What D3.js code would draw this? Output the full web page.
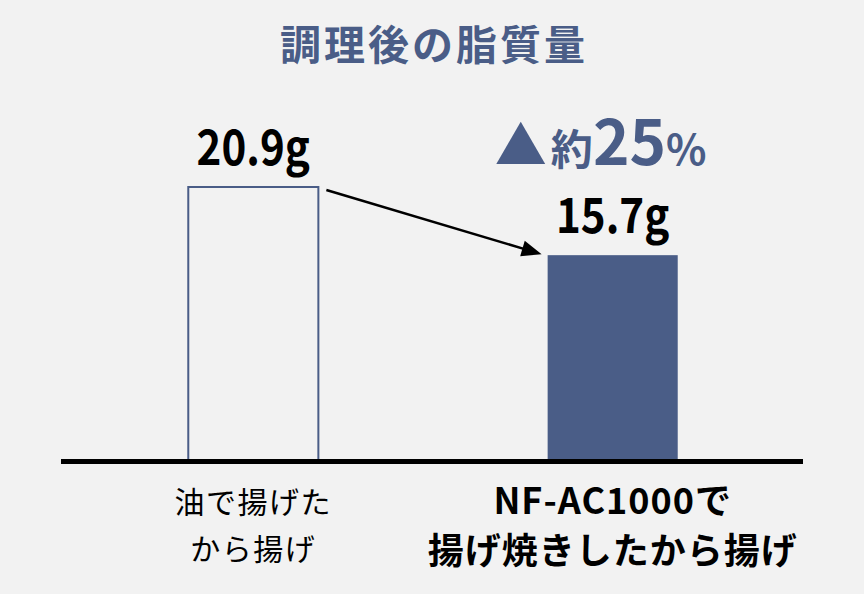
<!DOCTYPE html>
<html><head><meta charset="utf-8">
<script src="https://cdn.jsdelivr.net/npm/d3@7"></script>
<style>
html,body{margin:0;padding:0;background:#f2f2f2;}
svg{display:block;}
text{font-family:"Noto Sans CJK JP","Noto Sans",sans-serif;}
</style></head>
<body>
<script>
const title = "調理後の脂質量";
const categories = ["油で揚げたから揚げ", "NF-AC1000で揚げ焼きしたから揚げ"];
const categoryLines = [["油で揚げた", "から揚げ"], ["NF-AC1000で", "揚げ焼きしたから揚げ"]];
const values = [20.9, 15.7];
const valueLabels = ["20.9g", "15.7g"];
const reductionLabel = ["▲", "約", "25", "%"];

const W = 864, H = 594;
const blue = "#4a5d87";
const svg = d3.select("body").append("svg").attr("width", W).attr("height", H);
svg.append("rect").attr("width", W).attr("height", H).attr("fill", "#f2f2f2");

const x = d3.scaleBand().domain(categories).range([74, 792]).paddingInner(0.638).paddingOuter(0.318);
const y = d3.scaleLinear().domain([0, 20.9]).range([461, 187]);

// title
svg.append("text").attr("x", 434).attr("y", 60).attr("text-anchor", "middle")
  .attr("font-size", 41).attr("font-weight", 700).attr("letter-spacing", 3)
  .attr("fill", blue).text(title);

// bars
svg.selectAll("rect.bar").data(values).join("rect").attr("class", "bar")
  .attr("x", (d, i) => x(categories[i]))
  .attr("y", d => y(d))
  .attr("width", x.bandwidth())
  .attr("height", d => y(0) - y(d))
  .attr("fill", (d, i) => i === 0 ? "none" : blue)
  .attr("stroke", (d, i) => i === 0 ? blue : "none")
  .attr("stroke-width", 2);

// baseline
svg.append("line").attr("x1", 61).attr("x2", 803).attr("y1", y(0) + 0.5).attr("y2", y(0) + 0.5)
  .attr("stroke", "#000").attr("stroke-width", 5);

// value labels (condensed)
svg.selectAll("g.val").data(values).join("g").attr("class", "val")
  .attr("transform", (d, i) => `translate(${x(categories[i]) + x.bandwidth() / 2},${y(d) - 22}) scale(0.86,1)`)
  .append("text")
  .attr("text-anchor", "middle").attr("font-size", 49).attr("font-weight", 700)
  .attr("fill", "#000").text((d, i) => valueLabels[i]);

// reduction label
const rl = svg.append("text").attr("x", x(categories[1]) + x.bandwidth() / 2 - 12).attr("y", 165)
  .attr("text-anchor", "middle").attr("fill", blue).attr("font-weight", 700);
const sizes = [52, 42, 62, 42];
reductionLabel.forEach((t, i) => {
  rl.append("tspan").attr("font-size", sizes[i]).attr("dx", i === 1 ? 4 : 0).text(t);
});

// arrow
const ax1 = x(categories[0]) + x.bandwidth() + 8, ay1 = y(values[0]) + 3;
const ax2 = x(categories[1]) - 6, ay2 = y(values[1]) - 1;
const ang = Math.atan2(ay2 - ay1, ax2 - ax1);
const hl = 20, hw = 8;
svg.append("line").attr("x1", ax1).attr("y1", ay1)
  .attr("x2", ax2 - Math.cos(ang) * hl * 0.8).attr("y2", ay2 - Math.sin(ang) * hl * 0.8)
  .attr("stroke", "#000").attr("stroke-width", 2.5);
const bx = ax2 - Math.cos(ang) * hl, by = ay2 - Math.sin(ang) * hl;
svg.append("path").attr("d",
  `M${ax2},${ay2} L${bx - Math.sin(ang) * hw},${by + Math.cos(ang) * hw} L${bx + Math.sin(ang) * hw},${by - Math.cos(ang) * hw} Z`)
  .attr("fill", "#000");

// category labels
const lineY = [[513, 560], [514, 564]];
categoryLines.forEach((lines, i) => {
  lines.forEach((t, j) => {
    svg.append("text").attr("x", x(categories[i]) + x.bandwidth() / 2)
      .attr("y", lineY[i][j]).attr("text-anchor", "middle")
      .attr("font-size", i === 0 ? 30 : 36).attr("font-weight", i === 0 ? 400 : 700)
      .attr("letter-spacing", i === 0 ? 1.5 : 1)
      .attr("fill", "#000").text(t);
  });
});
</script>
</body></html>
